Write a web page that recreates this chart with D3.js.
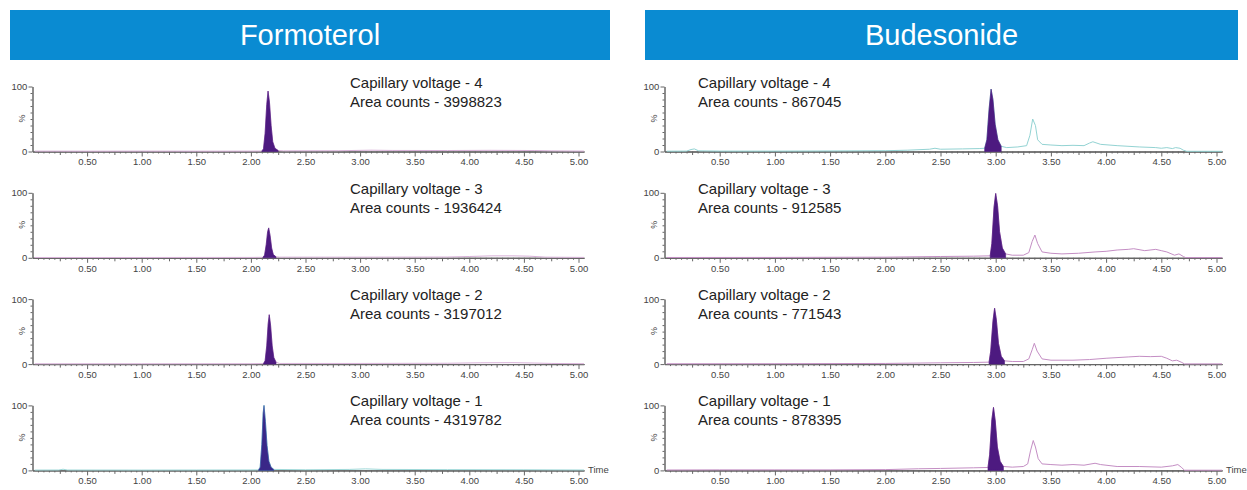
<!DOCTYPE html>
<html>
<head>
<meta charset="utf-8">
<script src="https://cdn.jsdelivr.net/npm/d3@7"></script>
<style>
	body { margin: 0; background: #fff; }
	svg { display: block; font-family: "Liberation Sans", Arial, sans-serif; }
</style>
</head>
<body>
<div id="chart"></div>
<script>
// chart values
var compounds = ["Formoterol", "Budesonide"];
var voltages = [4, 3, 2, 1];
var formoterolAreas = [3998823, 1936424, 3197012, 4319782];
var budesonideAreas = [867045, 912585, 771543, 878395];
var timeLabels = [0.5, 1.0, 1.5, 2.0, 2.5, 3.0, 3.5, 4.0, 4.5, 5.0];

// traces: [time (min), intensity (%)]
var formoterolTraces = [
	[[0.02,0.6],[0.5,0.5],[1.0,0.6],[1.5,0.5],[2.0,0.6],[2.10,0.7],[2.115,4],[2.13,28],[2.145,72],[2.157,93],[2.17,76],[2.185,40],[2.2,15],[2.22,5],[2.25,1.5],[2.3,1],[2.8,1.2],[3.1,2],[3.3,1.6],[3.8,1.5],[4.2,1.8],[4.6,1.5],[4.75,1],[5.05,0.6]],
	[[0.02,0.5],[1.0,0.5],[2.0,0.6],[2.11,0.8],[2.125,4],[2.14,20],[2.153,40],[2.163,46],[2.176,34],[2.19,15],[2.205,5],[2.23,1.5],[2.26,1],[3.0,1],[3.8,1.2],[4.0,2],[4.2,3],[4.4,3],[4.55,2.5],[4.7,1],[5.05,0.6]],
	[[0.02,0.5],[1.0,0.5],[2.0,0.6],[2.115,0.8],[2.13,5],[2.145,28],[2.158,62],[2.168,76],[2.18,60],[2.195,28],[2.21,10],[2.23,3],[2.26,1],[3.0,1],[3.8,1.3],[4.1,2],[4.4,2.2],[4.6,1.6],[4.75,1],[5.05,0.6]],
	[[0.02,0.5],[0.24,0.6],[0.28,1.8],[0.32,0.6],[1.0,0.5],[1.5,0.6],[2.0,0.7],[2.07,0.8],[2.085,5],[2.1,40],[2.112,88],[2.12,100],[2.133,75],[2.148,38],[2.165,14],[2.185,5],[2.21,1.5],[2.5,1],[2.9,1.5],[3.05,2.4],[3.2,1.5],[3.8,1.2],[4.5,1],[5.05,0.6]]
];
var budesonideTraces = [
	[[0.02,0.5],[0.2,0.6],[0.24,3],[0.27,4],[0.31,1],[0.5,0.6],[1.0,0.6],[1.5,0.8],[2.0,1.2],[2.2,2],[2.4,3.5],[2.45,5],[2.5,3.5],[2.7,4],[2.85,4.5],[2.9,5],[2.92,18],[2.94,65],[2.958,96],[2.975,80],[2.995,42],[3.02,18],[3.05,8],[3.1,6],[3.2,7],[3.28,9],[3.31,25],[3.335,50],[3.36,40],[3.38,18],[3.42,11],[3.5,10],[3.6,9],[3.7,9.5],[3.8,9],[3.85,13],[3.88,15],[3.95,11],[4.1,9],[4.3,7],[4.45,6],[4.5,5],[4.55,6],[4.6,4.5],[4.63,6],[4.67,5],[4.7,2],[4.73,0.3],[5.05,0.3]],
	[[0.02,0.5],[1.0,0.6],[2.0,1],[2.5,2],[2.8,2.5],[2.95,3],[2.965,22],[2.985,78],[3.0,99],[3.017,80],[3.035,40],[3.06,15],[3.09,6],[3.15,4],[3.25,4],[3.3,8],[3.33,25],[3.355,35],[3.38,22],[3.42,9],[3.5,7],[3.6,6],[3.75,7],[3.9,9],[4.0,10],[4.1,12],[4.2,13],[4.25,14],[4.35,11],[4.45,13],[4.5,11],[4.55,9],[4.62,4],[4.66,6],[4.7,2],[4.72,0.3],[5.05,0.3]],
	[[0.02,0.5],[1.0,0.6],[2.0,1],[2.5,2],[2.8,2.5],[2.94,3],[2.955,20],[2.975,66],[2.99,86],[3.006,68],[3.025,32],[3.05,12],[3.08,5],[3.15,4],[3.25,4],[3.3,8],[3.33,22],[3.35,32],[3.375,20],[3.42,8],[3.5,6],[3.7,6],[3.85,7],[4.0,9],[4.2,11],[4.3,12],[4.4,11.5],[4.5,12],[4.55,9],[4.6,5],[4.64,6],[4.68,3],[4.71,0.3],[5.05,0.3]],
	[[0.02,0.6],[0.5,0.8],[1.0,0.8],[1.5,0.8],[2.0,1.2],[2.3,2.5],[2.5,3],[2.8,4],[2.93,4.5],[2.945,24],[2.965,78],[2.98,97],[2.996,76],[3.015,36],[3.04,14],[3.07,6],[3.15,5],[3.25,6],[3.29,10],[3.315,30],[3.34,46],[3.36,36],[3.385,18],[3.42,10],[3.5,9],[3.6,8],[3.7,9],[3.8,8],[3.9,11],[3.95,9],[4.1,6],[4.3,6],[4.5,5],[4.6,7],[4.65,9],[4.68,5],[4.71,0.3],[5.05,0.3]]
];
var formoterolPeaks = [[2.10, 2.25], [2.11, 2.23], [2.115, 2.23], [2.07, 2.21]];
var budesonidePeaks = [[2.90, 3.07], [2.95, 3.09], [2.94, 3.08], [2.93, 3.07]];

var width = 1247, height = 490;
var svg = d3.select("#chart").append("svg")
	.attr("width", width)
	.attr("height", height);

var panels = [
	{ bar: [10, 610], x0: 32.5, ppm: 109.2, text: 350, traces: formoterolTraces, peaks: formoterolPeaks, areas: formoterolAreas,
		lineColors: ["#d8b0d8", "#d8b0d8", "#d8b0d8", "#9fd9d9"], fills: ["#4d1a80", "#4d1a80", "#4d1a80", "#3a2788"],
		edges: ["#4d1a80", "#4d1a80", "#4d1a80", "#3557a8"] },
	{ bar: [645, 1238], x0: 664.5, ppm: 110.4, text: 698, traces: budesonideTraces, peaks: budesonidePeaks, areas: budesonideAreas,
		lineColors: ["#93d3d3", "#c48ec4", "#c48ec4", "#c48ec4"], fills: ["#4d1a80", "#4d1a80", "#4d1a80", "#4d1a80"],
		edges: ["#4d1a80", "#4d1a80", "#4d1a80", "#4d1a80"] }
];

panels.forEach(function (p, c) {
	// header bar
	svg.append("rect").attr("x", p.bar[0]).attr("y", 10)
		.attr("width", p.bar[1] - p.bar[0]).attr("height", 50)
		.attr("fill", "#0a8bd2");
	svg.append("text").attr("x", (p.bar[0] + p.bar[1]) / 2).attr("y", 45)
		.attr("text-anchor", "middle").attr("fill", "white")
		.attr("font-size", 29).text(compounds[c]);

	voltages.forEach(function (v, r) {
		var base = 151.5 + r * 106.3;
		var x = d3.scaleLinear().domain([0, 5.05]).range([p.x0, p.x0 + 5.05 * p.ppm]);
		var y = d3.scaleLinear().domain([0, 100]).range([base, base - 65]);
		var g = svg.append("g");

		// x axis: minor, medium, major ticks
		var minor = d3.range(1, 101).map(function (i) { return i * 0.05; });
		g.append("g").attr("transform", "translate(0," + base + ")")
			.call(d3.axisBottom(x).tickValues(minor.filter(function (t, i) { return (i + 1) % 5 != 0; }))
				.tickSize(2).tickSizeOuter(0).tickFormat(""));
		g.append("g").attr("transform", "translate(0," + base + ")")
			.call(d3.axisBottom(x).tickValues(minor.filter(function (t, i) { return (i + 1) % 5 == 0 && (i + 1) % 10 != 0; }))
				.tickSize(3.5).tickSizeOuter(0).tickFormat(""));
		var xa = g.append("g").attr("transform", "translate(0," + base + ")")
			.call(d3.axisBottom(x).tickValues(timeLabels).tickSize(5).tickSizeOuter(0)
				.tickFormat(d3.format(".2f")));
		xa.selectAll("text").attr("font-size", 9.5).attr("fill", "#444").attr("dy", "0.62em")
			.attr("font-family", "Liberation Sans, Arial, sans-serif");

		// y axis
		g.append("g").attr("transform", "translate(" + p.x0 + ",0)")
			.call(d3.axisLeft(y).tickValues(d3.range(10, 100, 10)).tickSize(2).tickSizeOuter(0).tickFormat(""));
		var ya = g.append("g").attr("transform", "translate(" + p.x0 + ",0)")
			.call(d3.axisLeft(y).tickValues([0, 100]).tickSize(4).tickSizeOuter(0));
		ya.selectAll("text").attr("font-size", 9.5).attr("fill", "#444").attr("dx", "0.2em")
			.attr("font-family", "Liberation Sans, Arial, sans-serif");
		g.selectAll(".domain, .tick line").attr("stroke", "#666");

		g.append("text").attr("transform", "translate(" + (p.x0 - 8) + "," + (base - 33) + ") rotate(-90)")
			.attr("text-anchor", "middle").attr("font-size", 9).attr("fill", "#444").text("%");

		if (r == 3) {
			g.append("text").attr("x", x(5.05) + 4).attr("y", base + 3)
				.attr("font-size", 9.5).attr("fill", "#444").text("Time");
		}

		// trace, then the integrated peak over it
		var data = p.traces[r];
		var win = p.peaks[r];
		g.append("path").datum(data)
			.attr("d", d3.line().x(function (d) { return x(d[0]); }).y(function (d) { return y(d[1]); }))
			.attr("fill", "none").attr("stroke", p.lineColors[r]).attr("stroke-width", 1);
		var area = d3.area().x(function (d) { return x(d[0]); }).y0(base).y1(function (d) { return y(d[1]); });
		g.append("path")
			.datum(data.filter(function (d) { return d[0] >= win[0] && d[0] <= win[1]; }))
			.attr("d", area).attr("fill", p.fills[r])
			.attr("stroke", p.edges[r]).attr("stroke-width", 0.6);

		// annotation
		g.append("text").attr("x", p.text).attr("y", base - 64).attr("font-size", 15).attr("fill", "#222")
			.text("Capillary voltage - " + v);
		g.append("text").attr("x", p.text).attr("y", base - 45).attr("font-size", 15).attr("fill", "#222")
			.text("Area counts - " + p.areas[r]);
	});
});
</script>
</body>
</html>
